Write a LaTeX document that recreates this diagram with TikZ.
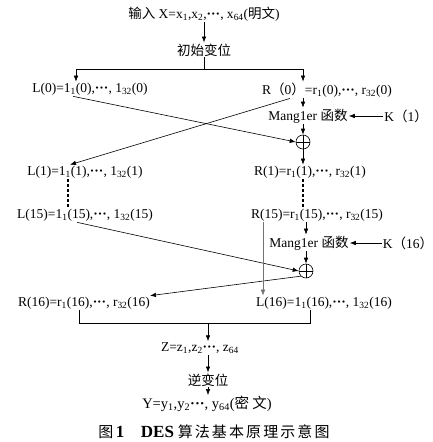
\documentclass[tikz,border=0pt]{standalone}
\usepackage{fontspec}
\setmainfont{Liberation Serif}
\newfontfamily\cjk{Noto Sans CJK SC}
\newfontfamily\cjkcap[LetterSpace=14]{Noto Sans CJK SC}
\usetikzlibrary{arrows.meta,calc}
\newcommand{\sbs}[1]{\textsubscript{#1}}
\newcommand{\cds}{{\bfseries\symbol{"00B7}\symbol{"00B7}\symbol{"00B7}}}
\begin{document}
\begin{tikzpicture}[x=1pt,y=-1pt,
  txt/.style={inner sep=1pt,font=\fontsize{13.5}{15}\selectfont},
  ln/.style={line width=0.6pt},
  dots/.style={line width=1.3pt,dash pattern=on 3pt off 2pt},
  arr/.style={line width=0.6pt,-{Latex[length=6pt,width=4.5pt]}},
  xorbox/.style={circle,draw,line width=0.6pt,minimum size=14pt,inner sep=0pt,
    path picture={\draw[line width=0.6pt] (path picture bounding box.north)--(path picture bounding box.south)
      (path picture bounding box.west)--(path picture bounding box.east);}}]
\useasboundingbox (0,0) rectangle (433,442);
% nodes
\node[txt] (in) at (204,14) {{\cjk 输入} X=x\sbs{1},x\sbs{2},\cds, x\sbs{64}({\cjk 明文})};
\node[txt] (ip) at (204,50) {\cjk 初始变位};
\node[txt] (L0) at (90,89) {L(0)=1\sbs{1}(0),\cds, 1\sbs{32}(0)};
\node[txt] (R0) at (327,90) {R{\cjk （}0{\cjk ）}=r\sbs{1}(0),\cds, r\sbs{32}(0)};
\node[txt] (M1) at (308,116) {Mang1er {\cjk 函数}};
\node[txt] (K1) at (406,116) {K{\cjk （}1{\cjk ）}};
\node[xorbox] (X1) at (303,142) {};
\node[txt] (L1) at (85,172) {L(1)=1\sbs{1}(1),\cds, 1\sbs{32}(1)};
\node[txt] (R1) at (310,172) {R(1)=r\sbs{1}(1),\cds, r\sbs{32}(1)};
\node[txt] (L15) at (85,215) {L(15)=1\sbs{1}(15),\cds, 1\sbs{32}(15)};
\node[txt] (R15) at (317,215) {R(15)=r\sbs{1}(15),\cds, r\sbs{32}(15)};
\node[txt] (M16) at (309,243) {Mang1er {\cjk 函数}};
\node[txt] (K16) at (408,243) {K{\cjk （}16{\cjk ）}};
\node[xorbox] (X16) at (306,271) {};
\node[txt] (R16) at (84,303) {R(16)=r\sbs{1}(16),\cds, r\sbs{32}(16)};
\node[txt] (L16) at (324,303) {L(16)=1\sbs{1}(16),\cds, 1\sbs{32}(16)};
\node[txt] (Z) at (200,348) {Z=z\sbs{1},z\sbs{2}\cds, z\sbs{64}};
\node[txt] (inv) at (208,380) {\cjk 逆变位};
\node[txt,font=\fontsize{14.5}{16}\selectfont] (Y) at (207,404) {Y=y\sbs{1},y\sbs{2}\cds, y\sbs{64}({\cjk 密 文})};
\node[inner sep=1pt,font=\fontsize{15}{17}\selectfont] (cap) at (214,432) {{\cjkcap 图}\,\textbf{\fontsize{17}{18}\selectfont 1}\hspace{1.1em}\textbf{\fontsize{17}{18}\selectfont DES} {\cjkcap 算法基本原理示意图}};
% connectors
\draw[arr] (in.south) -- (ip.north);
\coordinate (sp) at (204,69);
\coordinate (l0t) at ([xshift=-14pt]L0.north);
\coordinate (r0t) at ([xshift=-24pt]R0.north);
\draw[ln] (ip.south) -- (sp);
\draw[arr] (sp) -| (l0t);
\draw[arr] (sp) -| (r0t);
\draw[arr] (R0.south -| X1) -- (M1.north -| X1);
\draw[arr] (K1.west) -- (M1.east);
\draw[arr] (M1.south -| X1) -- (X1.north);
\draw[arr] (X1.south) -- (R1.north -| X1);
\draw[arr] ([xshift=-17pt]L0.south) -- (X1.west);
\draw[arr] ([xshift=-37pt]R0.south) -- ([xshift=-15pt]L1.north);
\draw[dots] ([xshift=-17pt]L1.south) -- ([xshift=-17pt]L15.north);
\draw[dots] (R1.south -| X1) -- (R15.north -| X1);
\draw[arr] (R15.south -| X16) -- (M16.north -| X16);
\draw[arr] (K16.west) -- (M16.east);
\draw[arr] (M16.south -| X16) -- (X16.north);
\draw[arr] ([xshift=-8pt]L15.south) -- (X16.west);
\draw[arr] (X16.south west) -- ([xshift=66pt]R16.north);
\draw[arr,black!55] ([xshift=-54pt]R15.south) -- ([xshift=-61pt]L16.north);
\coordinate (r16b) at ([xshift=-5pt]R16.south);
\coordinate (l16b) at ([xshift=-14pt]L16.south);
\coordinate (mgl) at ([yshift=-13pt]r16b);
\draw[ln] (r16b) -- (mgl) -- (mgl -| l16b) -- (l16b);
\draw[arr] (mgl -| inv) -- (Z.north -| inv);
\draw[arr] (Z.south -| inv) -- (inv.north);
\draw[arr] (inv.south) -- (Y.north -| inv);
\end{tikzpicture}
\end{document}
